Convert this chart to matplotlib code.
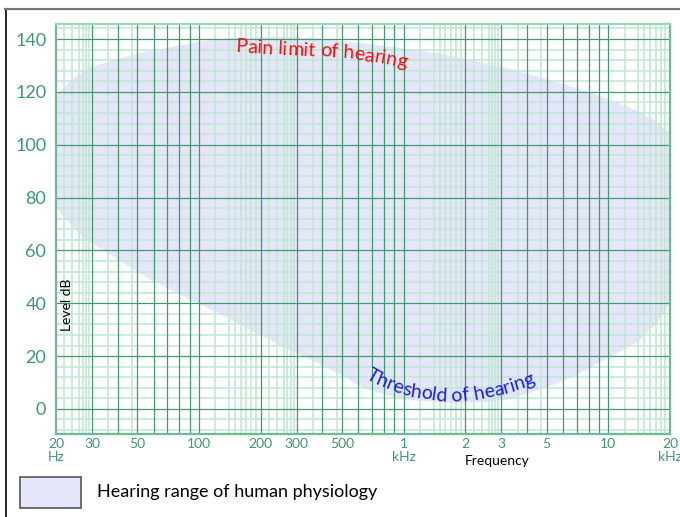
import matplotlib
matplotlib.use("Agg")
import matplotlib.pyplot as plt
from matplotlib.patches import Rectangle
from matplotlib.lines import Line2D
import numpy as np

plt.rcParams['font.family'] = ['Lato', 'DejaVu Sans']

# hearing range (Hz, dB)
upper_freq = [20, 25, 30, 50, 100, 150, 250, 400, 700, 1000, 1500, 3200, 6000, 9100, 14300, 17000, 20000]
upper_db = [119, 126, 129.5, 134.5, 139, 140.5, 141, 140, 138, 136.5, 134.5, 129, 123, 118.5, 112.5, 109, 104.5]
lower_freq = [20, 27, 40, 58, 84, 122, 176, 257, 376, 490, 650, 1000, 1700, 2500, 3200, 4600, 6700,
              10200, 14300, 17300, 20000]
lower_db = [76, 65, 56.5, 49, 42.5, 36.5, 30, 23.5, 17.5, 13, 7.5, 3.5, 2.2, 2.5, 3.5, 7.2, 12,
            19.7, 26, 32.5, 40]

# text paths (baselines) for the curved labels
pain_freq = [151, 278, 436, 536, 858, 1068, 1300]
pain_db = [135.0, 134.0, 133.2, 132.8, 130.2, 128.7, 127.0]
thr_freq = [647, 724, 907, 1098, 1504, 1780, 2180, 2954, 4002, 4479, 5000]
thr_db = [11.7, 9.5, 6.4, 4.5, 3.0, 2.65, 3.4, 5.3, 8.3, 9.8, 11.5]

xtick_vals = [20, 30, 50, 100, 200, 300, 500, 1000, 2000, 3000, 5000, 10000, 20000]
xtick_labels = ['20\nHz', '30', '50', '100', '200', '300', '500', '1\nkHz', '2', '3', '5', '10', '20\nkHz']
ytick_vals = [0, 20, 40, 60, 80, 100, 120, 140]

green = '#3c9a6a'
dark_grid = '#43996c'
light_grid = '#bfe6d1'
lavender = '#e6e6fa'

fig = plt.figure(figsize=(6.8, 5.17), dpi=100)
ax = fig.add_axes([56 / 680, 83 / 517, 614 / 680, 410 / 517])
ax.set_xscale('log')
ax.set_xlim(20, 20000)
ax.set_ylim(-9.5, 145.7)

# log paper grid
fine = [1.2, 1.4, 1.5, 1.6, 1.7, 1.8, 1.9, 2.2, 2.4, 2.6, 2.7, 2.8, 2.9, 3.6, 4.7]
for dec in [10, 100, 1000, 10000]:
    for m in fine:
        f = m * dec
        if 20 < f < 20000:
            ax.axvline(f, color=light_grid, lw=1.1, zorder=1)
    for m in range(1, 10):
        f = m * dec
        if 20 < f < 20000:
            ax.axvline(f, color=dark_grid, lw=0.9, zorder=2)
for y in range(-8, 145, 4):
    if y % 20:
        ax.axhline(y, color=light_grid, lw=1.1, zorder=1)
for y in ytick_vals:
    ax.axhline(y, color=dark_grid, lw=0.9, zorder=2)

fx = np.array(upper_freq + lower_freq[::-1])
fy = np.array(upper_db + lower_db[::-1])
ax.fill(fx, fy, color=lavender, lw=0, zorder=0.5)

for s in ax.spines.values():
    s.set_color('#6dbb92')
    s.set_linewidth(1.6)
ax.spines['top'].set_color('#9fd3b6')

ax.set_xticks(xtick_vals)
ax.set_xticklabels(xtick_labels, linespacing=1.05)
ax.xaxis.set_minor_locator(matplotlib.ticker.NullLocator())
ax.set_yticks(ytick_vals)
ax.tick_params(axis='x', length=0, pad=3, labelsize=10, labelcolor=green)
ax.tick_params(axis='y', length=0, pad=7, labelsize=13, labelcolor=green)

ax.text(0.018, 0.315, 'Level dB', transform=ax.transAxes, rotation=90,
        ha='center', va='center', fontsize=10, color='black', zorder=5)
fig.text(497 / 680, 1 - 461 / 517, 'Frequency', ha='center', va='center', fontsize=10)


def curved_text(text, xs, ys, **kw):
    fig.canvas.draw()
    r = fig.canvas.get_renderer()
    pts = ax.transData.transform(np.column_stack([xs, ys]))
    seg = np.hypot(np.diff(pts[:, 0]), np.diff(pts[:, 1]))
    cum = np.concatenate([[0], np.cumsum(seg)])

    def width(s):
        t = fig.text(0, 0, s, **kw)
        w = t.get_window_extent(renderer=r).width
        t.remove()
        return w

    base = width('x')
    pos = [0.0]
    for i in range(1, len(text) + 1):
        pos.append(width(text[:i] + 'x') - base)
    for i, ch in enumerate(text):
        if ch == ' ':
            continue
        s = (pos[i] + pos[i + 1]) / 2
        px = np.interp(s, cum, pts[:, 0])
        py = np.interp(s, cum, pts[:, 1])
        k = min(max(np.searchsorted(cum, s), 1), len(cum) - 1)
        ang = np.degrees(np.arctan2(pts[k, 1] - pts[k - 1, 1], pts[k, 0] - pts[k - 1, 0]))
        dx, dy = ax.transData.inverted().transform((px, py))
        ax.text(dx, dy, ch, rotation=ang, rotation_mode='anchor', ha='center', va='baseline',
                zorder=6, **kw)


curved_text('Pain limit of hearing', pain_freq, pain_db, fontsize=14, color='#ee1111')
curved_text('Threshold of hearing', thr_freq, thr_db, fontsize=14, color='#1a1ae6')

# legend
fig.patches.append(Rectangle((20 / 680, 1 - 508 / 517), 61 / 680, 31 / 517, transform=fig.transFigure,
                             facecolor=lavender, edgecolor='#555555', lw=1.2))
fig.text(97 / 680, 1 - 492 / 517, 'Hearing range of human physiology', ha='left', va='center', fontsize=13)

# figure frame
fig.add_artist(Line2D([5.5 / 680, 5.5 / 680], [0, 1 - 8.5 / 517], transform=fig.transFigure,
                      color='black', lw=1.2))
fig.add_artist(Line2D([5 / 680, 1], [1 - 8.5 / 517, 1 - 8.5 / 517], transform=fig.transFigure,
                      color='#777777', lw=1.6))

fig.savefig('out.png', dpi=100)
